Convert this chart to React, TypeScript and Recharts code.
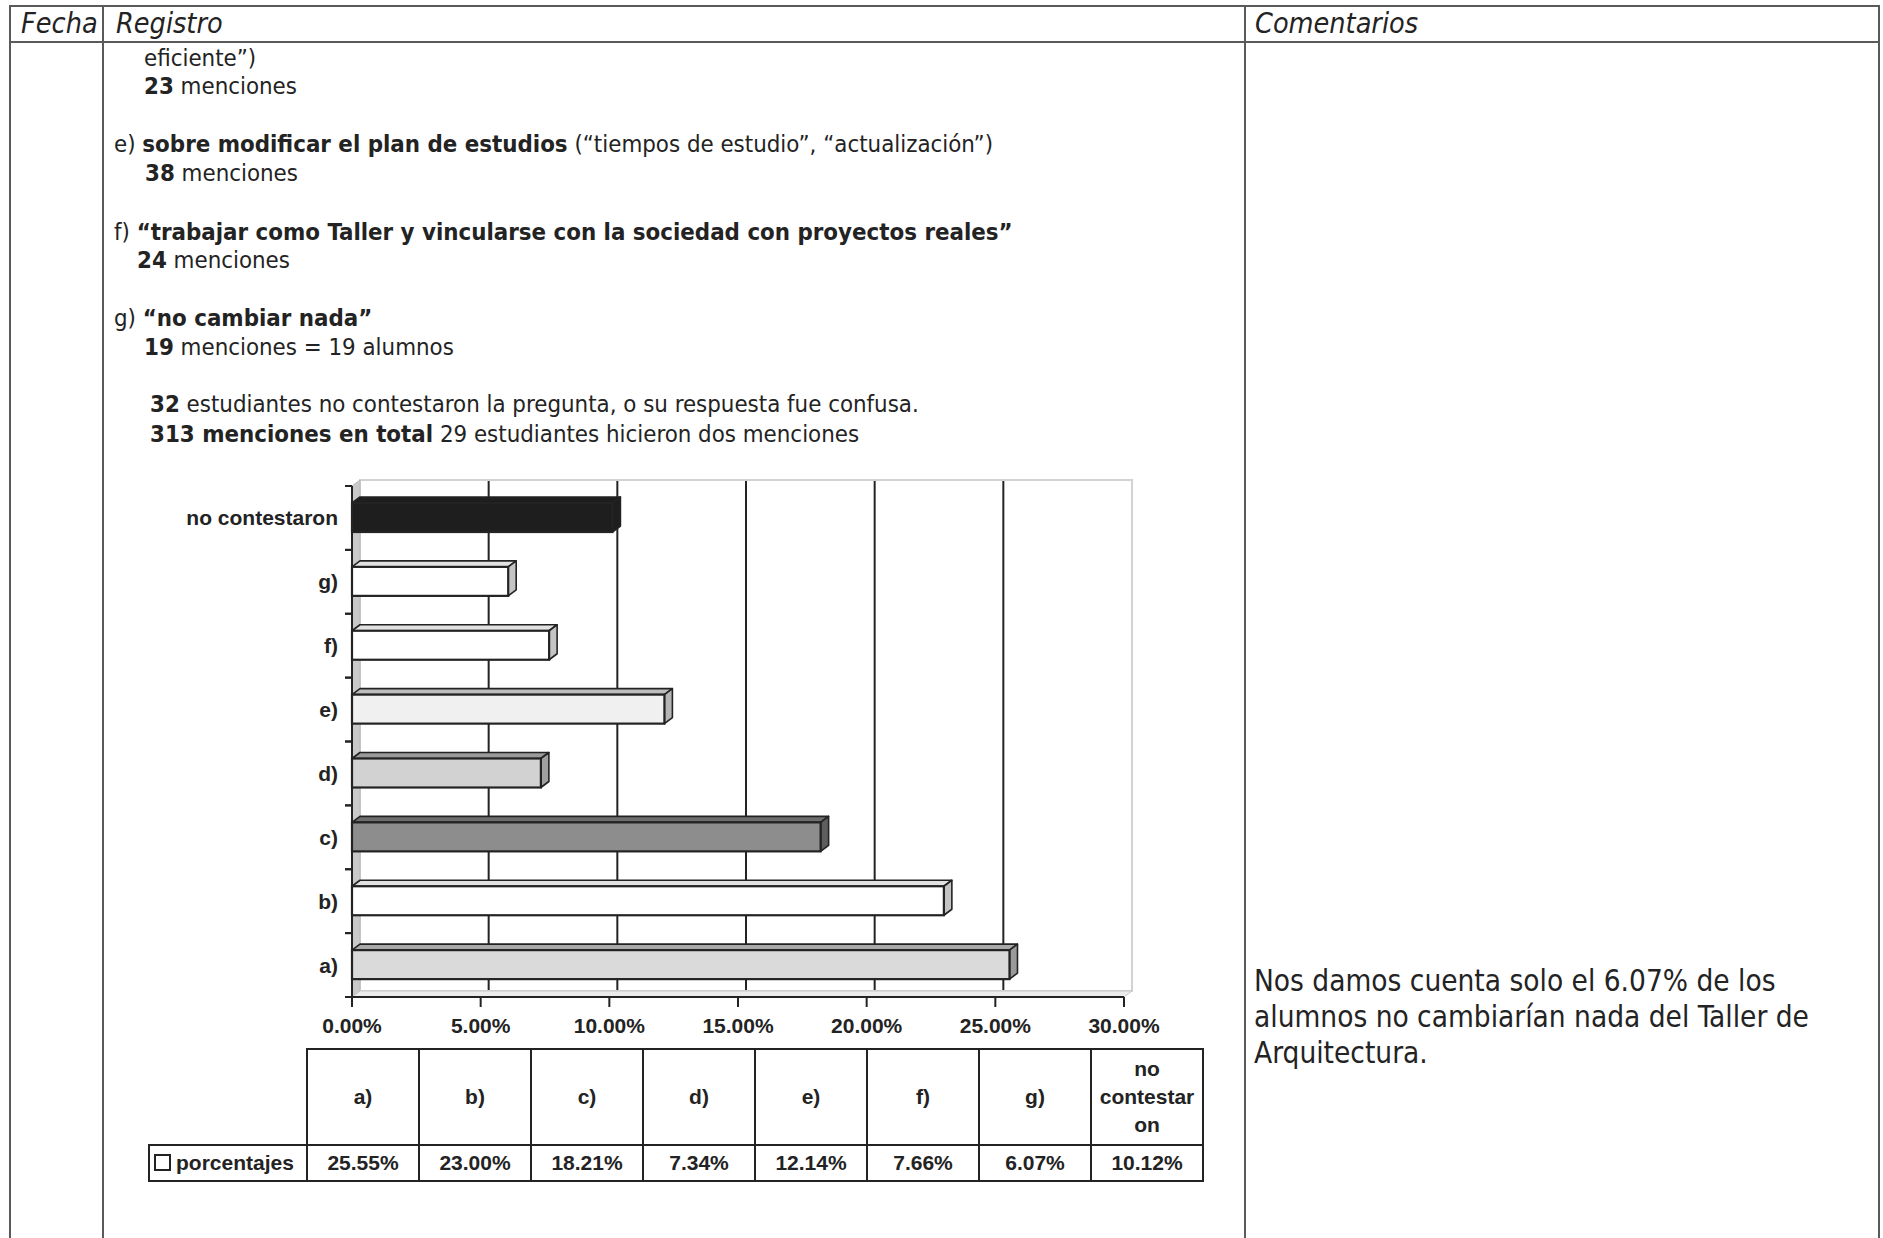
import React from 'react';
import { Bar, BarChart, CartesianGrid, Cell, ReferenceArea, XAxis, YAxis } from 'recharts';

const categories = ['a)', 'b)', 'c)', 'd)', 'e)', 'f)', 'g)', 'no contestaron'];
const porcentajes = [25.55, 23.0, 18.21, 7.34, 12.14, 7.66, 6.07, 10.12];
const xTicks = [0, 5, 10, 15, 20, 25, 30];

const chartData = categories.map((label, i) => ({ label, value: porcentajes[i] }));

// bar faces: front / top / side, same order as categories
const FRONT = ['#dadada', '#ffffff', '#8d8d8d', '#d2d2d2', '#f0f0f0', '#ffffff', '#ffffff', '#1e1e1e'];
const TOP = ['#a9a9a9', '#e2e2e2', '#6e6e6e', '#9a9a9a', '#bdbdbd', '#e2e2e2', '#e2e2e2', '#1e1e1e'];
const SIDE = ['#9a9a9a', '#c4c4c4', '#5e5e5e', '#a0a0a0', '#b5b5b5', '#c4c4c4', '#c4c4c4', '#1e1e1e'];

const DX = 8;
const DY = 6;
const CHART_W = 1060;
const CHART_H = 600;
const MARGIN = { top: 20, right: 76, bottom: 19, left: 12 };
const X_AXIS_H = 50;
const PLOT_H = CHART_H - MARGIN.top - MARGIN.bottom - X_AXIS_H;
const BAND = PLOT_H / categories.length;

const INK = '#232323';
const BODY_FONT = '"DejaVu Sans Condensed", "DejaVu Sans", sans-serif';
const CHART_FONT = '"Liberation Sans", Arial, sans-serif';

const pct = (v: number) => `${v.toFixed(2)}%`;

const Bar3D = (props: any) => {
  const { x, y, width, height, payload } = props;
  const i = categories.indexOf(payload?.label);
  const top = `${x},${y} ${x + DX},${y - DY} ${x + width + DX},${y - DY} ${x + width},${y}`;
  const side = `${x + width},${y} ${x + width + DX},${y - DY} ${x + width + DX},${y + height - DY} ${x + width},${y + height}`;
  return (
    <g>
      <polygon points={top} fill={TOP[i]} stroke={INK} strokeWidth={1.6} strokeLinejoin="round" />
      <polygon points={side} fill={SIDE[i]} stroke={INK} strokeWidth={1.6} strokeLinejoin="round" />
      <rect x={x} y={y} width={width} height={height} fill={FRONT[i]} stroke={INK} strokeWidth={2.2} />
    </g>
  );
};

const Walls = (props: any) => {
  const { x, y, width, height } = props;
  const left = `${x},${y} ${x + DX},${y - DY} ${x + DX},${y + height - DY} ${x},${y + height}`;
  const floor = `${x},${y + height} ${x + DX},${y + height - DY} ${x + width + DX},${y + height - DY} ${x + width},${y + height}`;
  return (
    <g>
      <rect x={x + DX} y={y - DY} width={width} height={height} fill="none" stroke="#d2d2d2" strokeWidth={2} />
      <polygon points={left} fill="#c9c9c9" stroke="#b8b8b8" strokeWidth={1} />
      <polygon points={floor} fill="#ececec" stroke="#c8c8c8" strokeWidth={1} />
    </g>
  );
};

const gridLine = (p: any) => {
  const edge = Math.abs(p.x1 - p.x) < 1 || Math.abs(p.x1 - (p.x + p.width)) < 1;
  if (edge) return <g key={p.key} />;
  return (
    <g key={p.key}>
      <line x1={p.x1 + DX} y1={p.y1 - DY} x2={p.x2 + DX} y2={p.y2 - DY} stroke={INK} strokeWidth={2} />
      <line x1={p.x2} y1={p.y2} x2={p.x2 + DX} y2={p.y2 - DY} stroke={INK} strokeWidth={2} />
    </g>
  );
};

const CategoryTick = (props: any) => {
  const { x, y, payload } = props;
  return (
    <g>
      <line x1={x - 7} y1={y - BAND / 2} x2={x} y2={y - BAND / 2} stroke={INK} strokeWidth={2} />
      <line x1={x - 7} y1={y + BAND / 2} x2={x} y2={y + BAND / 2} stroke={INK} strokeWidth={2} />
      <text
        x={x - 14}
        y={y}
        textAnchor="end"
        dominantBaseline="central"
        fontFamily={CHART_FONT}
        fontWeight={700}
        fontSize={21}
        fill={INK}
      >
        {payload.value}
      </text>
    </g>
  );
};

const Text = ({ x, y, children }: { x: number; y: number; children: React.ReactNode }) => (
  <div
    style={{
      position: 'absolute',
      left: x,
      top: y - 15,
      lineHeight: '30px',
      fontSize: 23.8,
      whiteSpace: 'nowrap',
    }}
  >
    {children}
  </div>
);

const HLine = ({ y, x1, x2 }: { y: number; x1: number; x2: number }) => (
  <div style={{ position: 'absolute', left: x1, top: y - 1, width: x2 - x1, height: 2, background: '#5a5a5a' }} />
);
const VLine = ({ x, y1, y2 }: { x: number; y1: number; y2: number }) => (
  <div style={{ position: 'absolute', left: x - 1, top: y1, width: 2, height: y2 - y1, background: '#5a5a5a' }} />
);

const headStyle: React.CSSProperties = {
  position: 'absolute',
  top: 7,
  fontSize: 28.5,
  fontStyle: 'italic',
  lineHeight: '34px',
};

const cellBorder = `2px solid ${INK}`;

const DataTable = () => (
  <table
    style={{
      position: 'absolute',
      left: 148,
      top: 1048,
      width: 1056,
      borderCollapse: 'collapse',
      tableLayout: 'fixed',
      fontFamily: CHART_FONT,
      fontWeight: 700,
      fontSize: 21,
      color: INK,
    }}
  >
    <colgroup>
      <col style={{ width: 158 }} />
      {categories.map((c) => (
        <col key={c} style={{ width: 112 }} />
      ))}
    </colgroup>
    <tbody>
      <tr style={{ height: 96 }}>
        <td style={{ border: 'none' }} />
        {categories.map((c) => (
          <td
            key={c}
            style={{
              border: cellBorder,
              textAlign: 'center',
              verticalAlign: 'middle',
              lineHeight: '28px',
              padding: '0 4px',
              overflowWrap: 'anywhere',
            }}
          >
            {c}
          </td>
        ))}
      </tr>
      <tr style={{ height: 36 }}>
        <td style={{ border: cellBorder, padding: '0 4px', whiteSpace: 'nowrap' }}>
          <span
            style={{
              display: 'inline-block',
              width: 13,
              height: 13,
              border: `2px solid ${INK}`,
              marginRight: 5,
              verticalAlign: '-1px',
            }}
          />
          porcentajes
        </td>
        {porcentajes.map((v, i) => (
          <td key={categories[i]} style={{ border: cellBorder, textAlign: 'center', padding: 0 }}>
            {pct(v)}
          </td>
        ))}
      </tr>
    </tbody>
  </table>
);

export default function App() {
  return (
    <div
      style={{
        position: 'absolute',
        left: 0,
        top: 0,
        width: 1883,
        height: 1238,
        background: '#fff',
        overflow: 'hidden',
        fontFamily: BODY_FONT,
        color: INK,
      }}
    >
      <HLine y={6} x1={9} x2={1880} />
      <HLine y={42} x1={9} x2={1880} />
      <VLine x={10} y1={6} y2={1238} />
      <VLine x={103} y1={6} y2={1238} />
      <VLine x={1245} y1={6} y2={1238} />
      <VLine x={1879} y1={6} y2={1238} />

      <div style={{ ...headStyle, left: 21 }}>Fecha</div>
      <div style={{ ...headStyle, left: 116 }}>Registro</div>
      <div style={{ ...headStyle, left: 1255 }}>Comentarios</div>

      <Text x={144} y={58}>eficiente”)</Text>
      <Text x={144} y={86}>
        <b>23</b> menciones
      </Text>
      <Text x={114} y={144}>
        e) <b>sobre modificar el plan de estudios</b> (“tiempos de estudio”, “actualización”)
      </Text>
      <Text x={145} y={173}>
        <b>38</b> menciones
      </Text>
      <Text x={114} y={232}>
        f) <b>“trabajar como Taller y vincularse con la sociedad con proyectos reales”</b>
      </Text>
      <Text x={137} y={260}>
        <b>24</b> menciones
      </Text>
      <Text x={114} y={318}>
        g) <b>“no cambiar nada”</b>
      </Text>
      <Text x={144} y={347}>
        <b>19</b> menciones = 19 alumnos
      </Text>
      <Text x={150} y={404}>
        <b>32</b> estudiantes no contestaron la pregunta, o su respuesta fue confusa.
      </Text>
      <Text x={150} y={434}>
        <b>313 menciones en total</b> 29 estudiantes hicieron dos menciones
      </Text>

      <div style={{ position: 'absolute', left: 140, top: 466, width: CHART_W, height: CHART_H }}>
        <BarChart width={CHART_W} height={CHART_H} data={chartData} layout="vertical" margin={MARGIN}>
          <ReferenceArea x1={0} x2={30} shape={Walls} ifOverflow="visible" />
          <CartesianGrid horizontal={false} vertical={gridLine} />
          <XAxis
            type="number"
            domain={[0, 30]}
            ticks={xTicks}
            interval={0}
            tickFormatter={pct}
            height={X_AXIS_H}
            tickSize={10}
            tickMargin={11}
            axisLine={{ stroke: INK, strokeWidth: 2 }}
            tickLine={{ stroke: INK, strokeWidth: 2 }}
            tick={{ fontFamily: CHART_FONT, fontWeight: 700, fontSize: 21, fill: INK }}
          />
          <YAxis
            type="category"
            dataKey="label"
            reversed
            width={200}
            tickSize={0}
            tickMargin={0}
            tickLine={false}
            interval={0}
            axisLine={{ stroke: INK, strokeWidth: 2 }}
            tick={<CategoryTick />}
          />
          <Bar dataKey="value" barSize={29} shape={Bar3D} isAnimationActive={false}>
            {chartData.map((d, i) => (
              <Cell key={d.label} fill={FRONT[i]} />
            ))}
          </Bar>
        </BarChart>
      </div>

      <DataTable />

      <div style={{ position: 'absolute', left: 1254, top: 963, fontSize: 29.5, lineHeight: '36px', whiteSpace: 'nowrap' }}>
        Nos damos cuenta solo el 6.07% de los
        <br />
        alumnos no cambiarían nada del Taller de
        <br />
        Arquitectura.
      </div>
    </div>
  );
}
